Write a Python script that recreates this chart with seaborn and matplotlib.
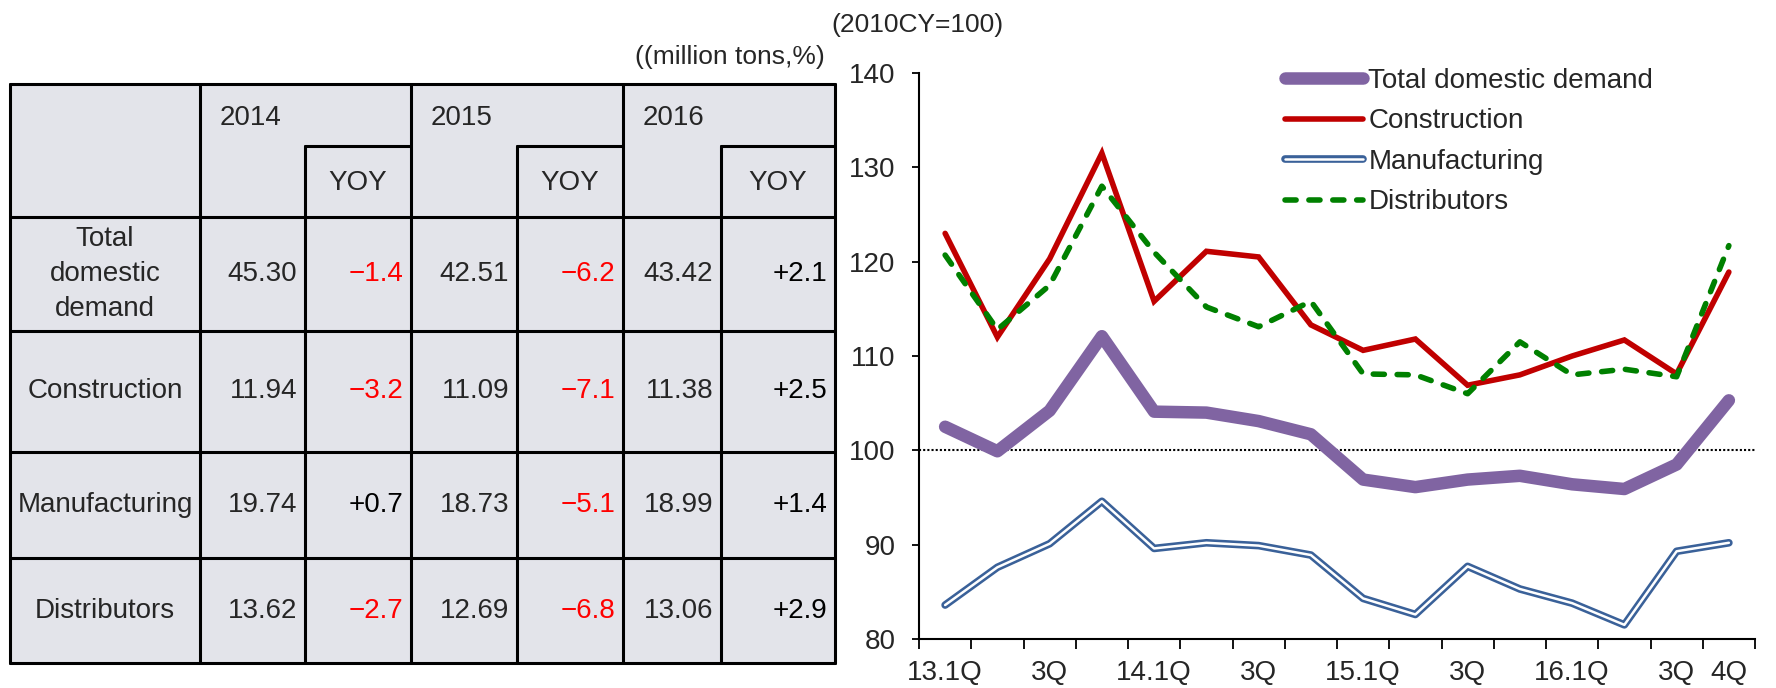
import numpy as np
import pandas as pd
import matplotlib
matplotlib.use("Agg")
import matplotlib.pyplot as plt
import matplotlib.patheffects as pe
from matplotlib.lines import Line2D
import seaborn as sns

# chart data (2010CY=100)
quarters = ["13.1Q", "", "3Q", "", "14.1Q", "", "3Q", "", "15.1Q", "", "3Q", "",
            "16.1Q", "", "3Q", "4Q"]
total_demand = [102.5, 99.9, 104.2, 112.1, 104.1, 104.0, 103.1, 101.7,
                96.9, 96.1, 96.9, 97.3, 96.4, 95.9, 98.5, 105.3]
construction = [123.0, 112.0, 120.3, 131.5, 115.8, 121.1, 120.5, 113.3,
                110.6, 111.8, 106.9, 108.0, 110.0, 111.7, 108.1, 118.9]
manufacturing = [83.6, 87.6, 90.1, 94.6, 89.6, 90.2, 89.9, 88.9,
                 84.3, 82.6, 87.7, 85.3, 83.8, 81.5, 89.3, 90.2]
distributors = [120.7, 112.8, 117.5, 128.0, 121.0, 115.2, 113.1, 115.8,
                108.1, 108.0, 106.0, 111.5, 108.0, 108.6, 107.8, 121.7]

# table data (million tons, %)
years = ["2014", "2015", "2016"]
row_labels = ["Total\ndomestic\ndemand", "Construction", "Manufacturing", "Distributors"]
volumes = [["45.30", "42.51", "43.42"],
           ["11.94", "11.09", "11.38"],
           ["19.74", "18.73", "18.99"],
           ["13.62", "12.69", "13.06"]]
yoy = [["\u22121.4", "\u22126.2", "+2.1"],
       ["\u22123.2", "\u22127.1", "+2.5"],
       ["+0.7", "\u22125.1", "+1.4"],
       ["\u22122.7", "\u22126.8", "+2.9"]]

sns.set_style("white")
plt.rcParams["font.family"] = ["Liberation Sans", "DejaVu Sans"]

W, H = 1776, 688
fig = plt.figure(figsize=(W / 100, H / 100), dpi=100)

# ---------------- table (drawn in pixel coordinates) ----------------
tab = fig.add_axes([0, 0, 1, 1])
tab.set_xlim(0, W)
tab.set_ylim(H, 0)
tab.axis("off")

col_x = [10, 200, 305, 411, 517, 623, 721, 835]
row_y = [84, 217, 331, 452, 558, 663]
sub_y = 146
fs_t = 20
bg = "#e3e4ea"
tab.add_patch(plt.Rectangle((col_x[0], row_y[0]), col_x[-1] - col_x[0],
                            row_y[-1] - row_y[0], facecolor=bg, edgecolor="none"))
lw_t = 2.2
for y in row_y:
    tab.plot([col_x[0], col_x[-1]], [y, y], color="black", lw=lw_t)
for i, x in enumerate(col_x):
    if i in (2, 4, 6):
        tab.plot([x, x], [sub_y, row_y[-1]], color="black", lw=lw_t)
        tab.plot([x, col_x[i + 1]], [sub_y, sub_y], color="black", lw=lw_t)
    else:
        tab.plot([x, x], [row_y[0], row_y[-1]], color="black", lw=lw_t)

for j, yr in enumerate(years):
    x0 = col_x[1 + 2 * j]
    tab.text(x0 + 20, 118, yr, fontsize=fs_t, ha="left", va="center")
    xm = (col_x[2 + 2 * j] + col_x[3 + 2 * j]) / 2
    tab.text(xm, 183, "YOY", fontsize=fs_t, ha="center", va="center")

for r, lab in enumerate(row_labels):
    yc = (row_y[r + 1] + row_y[r + 2]) / 2
    tab.text((col_x[0] + col_x[1]) / 2, yc, lab, fontsize=fs_t, ha="center",
             va="center", linespacing=1.45)
    for j in range(3):
        tab.text(col_x[2 + 2 * j] - 8, yc, volumes[r][j], fontsize=fs_t,
                 ha="right", va="center")
        v = yoy[r][j]
        tab.text(col_x[3 + 2 * j] - 8, yc, v, fontsize=fs_t, ha="right",
                 va="center", color="#ff0000" if v.startswith("\u2212") else "black")

tab.text(825, 57, "((million tons,%)", fontsize=19, ha="right", va="center")

# ---------------- line chart ----------------
ax = fig.add_axes([919 / W, 1 - 639 / H, (1755 - 919) / W, (639 - 73) / H])
xpos = np.arange(len(quarters))
df = pd.DataFrame({"x": xpos, "total": total_demand, "cons": construction,
                   "manu": manufacturing, "dist": distributors})

green_dash = (0, (2.0, 2.3))
ax.axhline(100, color="black", linewidth=1.5, linestyle=(0, (1, 1)), zorder=1)
sns.lineplot(data=df, x="x", y="total", ax=ax, color="#8064a2", linewidth=9,
             solid_capstyle="round", solid_joinstyle="round", zorder=2)
sns.lineplot(data=df, x="x", y="cons", ax=ax, color="#c00000", linewidth=4,
             solid_joinstyle="miter", zorder=3)
manu_fx = [pe.Stroke(linewidth=5.5, foreground="#3a6199", capstyle="round"), pe.Normal()]
sns.lineplot(data=df, x="x", y="manu", ax=ax, color="white", linewidth=1.8,
             path_effects=manu_fx, zorder=4)
sns.lineplot(data=df, x="x", y="dist", ax=ax, color="#008000", linewidth=4,
             linestyle=green_dash, dash_capstyle="round", zorder=5)

ax.set_xlim(-0.5, len(quarters) - 0.5)
ax.set_ylim(80, 140)
ax.set_yticks(np.arange(80, 141, 10))
ax.set_xticks(np.arange(-0.5, len(quarters), 1.0))
ax.set_xticklabels([])
ax.set_xticks(xpos, minor=True)
ax.set_xticklabels(quarters, minor=True)
ax.tick_params(axis="x", which="major", direction="out", length=7, width=1.3,
               color="black", bottom=True)
ax.tick_params(axis="x", which="minor", length=0, pad=15, labelsize=20)
ax.tick_params(axis="y", direction="out", length=5, width=1.3, color="black",
               left=True, pad=12, labelsize=20)
ax.set_xlabel("")
ax.set_ylabel("")
sns.despine(ax=ax)
for s in ("left", "bottom"):
    ax.spines[s].set_color("black")
    ax.spines[s].set_linewidth(1.5)

fig.text(831 / W, 1 - 25 / H, "(2010CY=100)", fontsize=19, ha="left", va="center")

handles = [
    Line2D([], [], color="#8064a2", linewidth=9, solid_capstyle="round"),
    Line2D([], [], color="#c00000", linewidth=4),
    Line2D([], [], color="white", linewidth=1.8, path_effects=manu_fx),
    Line2D([], [], color="#008000", linewidth=4, linestyle=green_dash,
           dash_capstyle="round"),
]
labels = ["Total domestic demand", "Construction", "Manufacturing", "Distributors"]
fig.legend(handles, labels, loc="upper left", bbox_to_anchor=(1285 / W, 1 - 68 / H),
           frameon=False, fontsize=20, handlelength=2.8, handletextpad=0.2,
           labelspacing=0.52, borderpad=0, borderaxespad=0)

fig.savefig("out.png", dpi=100)
